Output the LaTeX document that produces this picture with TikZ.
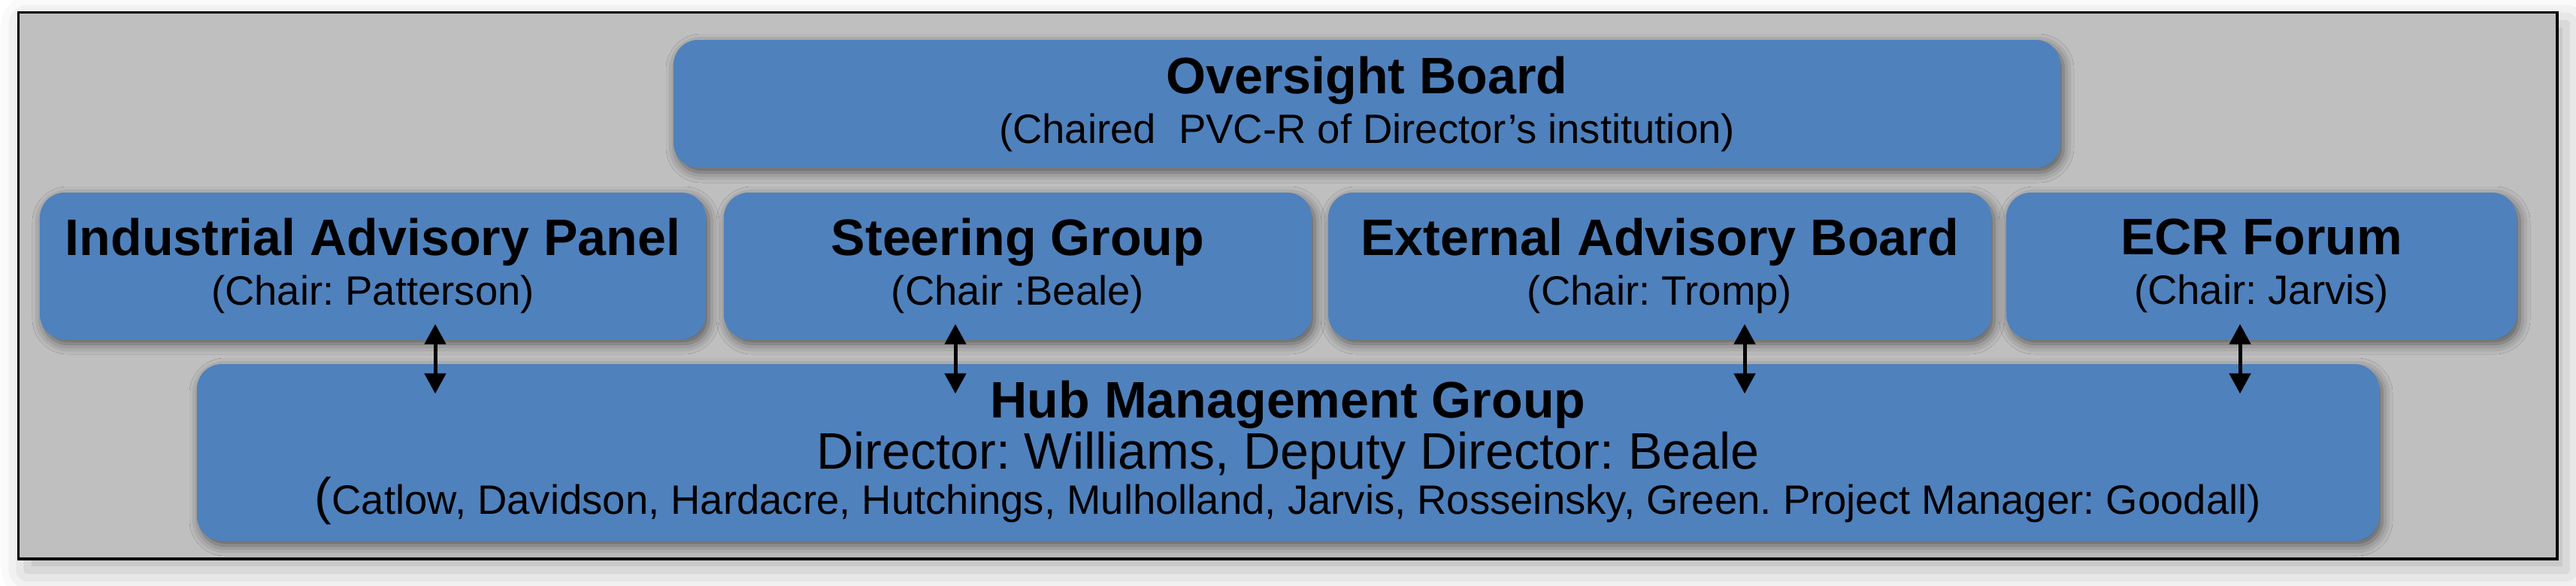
\documentclass[tikz,border=0pt]{standalone}
\usepackage{xcolor}
\usepackage{fontspec}
\setmainfont{Liberation Sans}
\usepackage{tikz}
\usetikzlibrary{arrows.meta,shapes,positioning,shadows,shadows.blur,calc}
\frenchspacing

\definecolor{boardblue}{RGB}{79,129,189}
\definecolor{panelgray}{RGB}{191,191,191}
\newcommand{\headfont}{\bfseries\fontsize{19.4}{23}\selectfont}
\newcommand{\chairfont}{\fontsize{15.5}{18.8}\selectfont}
\newcommand{\namefont}{\fontsize{19.4}{23}\selectfont}

\tikzset{
  group/.style={fill=boardblue, rounded corners=0.33cm, inner sep=0pt, align=center,
    font=\chairfont, minimum height=1.95cm,
    blur shadow={shadow xshift=0.04cm, shadow yshift=-0.06cm, shadow blur radius=0.14cm, shadow opacity=55}},
  linkarrow/.style={{Triangle[length=0.27cm,width=0.28cm]}-{Triangle[length=0.27cm,width=0.28cm]}, line width=0.05cm},
}

\begin{document}
\begin{tikzpicture}
\useasboundingbox (0,0) rectangle (34.27,7.78);
% Outer panel
\node[draw, line width=0.035cm, fill=panelgray, minimum width=33.775cm, minimum height=7.265cm, inner sep=0pt,
  blur shadow={shadow xshift=0.12cm, shadow yshift=-0.15cm, shadow blur radius=0.35cm, shadow opacity=30}] (frame) at (17.1325,3.9825) {};

% Governance bodies
\node[group, minimum width=18.45cm, minimum height=1.70cm] (oversight) at (18.185,6.40) {{\headfont Oversight Board}\\(Chaired\ \ PVC-R of Director’s institution)};
\node[group, minimum width=8.86cm] (industrial) at (4.96,4.245) {{\headfont Industrial Advisory Panel}\\(Chair: Patterson)};
\node[group, minimum width=7.82cm] (steering) at (13.54,4.245) {{\headfont Steering Group}\\(Chair :Beale)};
\node[group, minimum width=8.82cm] (external) at (22.08,4.245) {{\headfont External Advisory Board}\\(Chair: Tromp)};
\node[group, minimum width=6.79cm] (ecr) at (30.085,4.245) {{\headfont ECR Forum}\\(Chair: Jarvis)};
\node[group, minimum width=29.03cm, minimum height=2.35cm] (hub) at (17.135,1.765) {{\headfont Hub Management Group}\\[0.5pt]{\namefont Director: Williams, Deputy Director: Beale}\\[-1.7pt]{\namefont(}Catlow, Davidson, Hardacre, Hutchings, Mulholland, Jarvis, Rosseinsky, Green. Project Manager: Goodall)};

% Arrows
\coordinate (a1) at (5.79,0);
\coordinate (a2) at (12.71,0);
\coordinate (a3) at (23.21,0);
\coordinate (a4) at (29.80,0);
\foreach \src/\pos in {industrial/a1, steering/a2, external/a3, ecr/a4}
  \draw[linkarrow, shorten <=-0.21cm, shorten >=-0.40cm] (\src.south -| \pos) -- (hub.north -| \pos);

\end{tikzpicture}
\end{document}
